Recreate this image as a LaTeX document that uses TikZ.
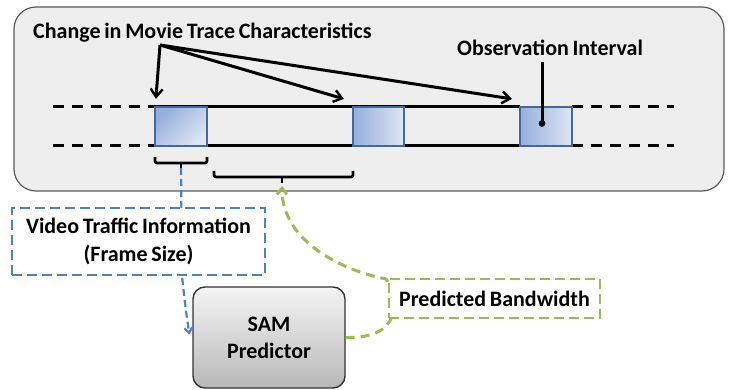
\documentclass[tikz,border=0pt]{standalone}
\usepackage{fontspec}
\setmainfont{Carlito}[WordSpace=0.75]
\usetikzlibrary{arrows.meta,positioning,calc}
\definecolor{PanelGray}{HTML}{EEEEEE}
\definecolor{PanelEdge}{HTML}{5A5A5A}
\definecolor{FrameEdge}{HTML}{45679A}
\definecolor{FrameDark}{HTML}{95AEDC}
\definecolor{FrameLight}{HTML}{DDE6F4}
\definecolor{InfoBlue}{HTML}{4F81BD}
\definecolor{PredGreen}{HTML}{9BBB59}
\tikzset{
  panel/.style={rounded corners=22pt, draw=PanelEdge, fill=PanelGray, line width=1.2pt, minimum width=710pt, minimum height=184pt},
  framebox/.style={draw=FrameEdge, line width=2.2pt, minimum width=52pt, minimum height=39pt, inner sep=0pt},
  label/.style={font=\fontsize{22}{24}\selectfont\bfseries, inner sep=0pt},
  trace/.style={line width=3pt, draw=black},
  tracedash/.style={trace, dash pattern=on 11pt off 8pt},
  pointer/.style={-{Straight Barb[length=8pt, width=12pt, line width=2.4pt]}, line width=3pt},
  bracket/.style={line width=2.6pt, rounded corners=2pt},
  infobox/.style={draw=InfoBlue, fill=white, line width=2.6pt, dash pattern=on 10pt off 5pt, align=center, minimum width=253pt, minimum height=67pt, font=\fontsize{22}{28}\selectfont\bfseries},
  predbox/.style={draw=PredGreen, fill=white, line width=2.6pt, dash pattern=on 10pt off 5pt, minimum width=211pt, minimum height=39pt, font=\fontsize{22}{24}\selectfont\bfseries},
  predictor/.style={rounded corners=12pt, draw=black!80, line width=1.4pt, top color=black!4, bottom color=black!28, align=center, minimum width=152pt, minimum height=101pt, font=\fontsize{22}{27}\selectfont\bfseries},
  infoflow/.style={-{Straight Barb[length=5pt, width=8pt]}, draw=InfoBlue, line width=2.2pt, dash pattern=on 7pt off 4pt},
  predflow/.style={-{Straight Barb[length=6pt, width=10pt]}, draw=PredGreen, line width=3pt, dash pattern=on 9pt off 6pt}
}
\begin{document}
\begin{tikzpicture}[x=1pt, y=-1pt]
  \useasboundingbox (0,0) rectangle (730,390);
  \node[panel] (panel) at (369,99) {};

  % frames of the trace
  \coordinate (f1) at (181,126.5);
  \coordinate (f3) at (546,126.5);
  \draw[trace] ($(f1)+(-26,-19.5)$) -- ($(f3)+(-26,-19.5)$);
  \draw[trace] ($(f1)+(-26,19.5)$) -- ($(f3)+(-26,19.5)$);
  \draw[tracedash] (53,107) -- ($(f1)+(-26,-19.5)$);
  \draw[tracedash] (53,146) -- ($(f1)+(-26,19.5)$);
  \draw[tracedash] ($(f3)+(26,-19.5)$) -- (674,107);
  \draw[tracedash] ($(f3)+(26,19.5)$) -- (674,146);

  \shade[left color=FrameDark, right color=FrameLight, shading angle=45] (155,107) rectangle (207,146);
  \shade[left color=FrameDark, right color=FrameLight] (353,107) rectangle (404,146);
  \shade[left color=FrameDark, right color=FrameLight] (520,107) rectangle (572,146);
  \node[framebox] (frameA) at (181,126.5) {};
  \node[framebox, minimum width=51pt] (frameB) at (378.5,126.5) {};
  \node[framebox] (frameC) at (546,126.5) {};

  % labels and pointers
  \node[label, anchor=west] (change) at (33,33) {Change in Movie Trace Characteristics};
  \node[label, anchor=west] (obs) at (457,48) {Observation Interval};
  \coordinate (src) at (160,45);
  \draw[pointer] (src) -- ($(frameA.north west)+(2,-7)$);
  \draw[pointer] (src) -- ($(frameB.north west)+(-8,-7)$);
  \draw[pointer] (src) -- ($(frameC.north west)+(-7,-7)$);
  \fill ($(frameC.center)+(-4,-3)$) coordinate (dot) circle (3.4pt);
  \draw[line width=3pt] (dot |- obs.south) ++(0,6) -- (dot);

  % brackets
  \draw[bracket] (155,157) -- (155,163) -- (207,163) -- (207,157);
  \draw[bracket] (181,163) -- (181,168) coordinate (b1);
  \draw[bracket] (214,171) -- (214,177) -- (353,177) -- (353,171);
  \draw[bracket] (282,177) -- (282,183) coordinate (b2);

  % predictor part
  \node[predictor] (sam) at (269,337.5) {SAM\\Predictor};
  \draw[infoflow] (b1) -- (182,276) .. controls (185,305) and (187,318) .. ($(sam.west)+(-3,-3)$);
  \draw[predflow] (sam.east) .. controls (372,338) and (388,330) .. (392,316)
    .. controls (395,300) and (392,288) .. (386,279)
    .. controls (340,270) and (282,240) .. ($(b2)+(0,3)$);
  \node[infobox] (info) at (138.5,241.5) {Video Traffic Information\\(Frame Size)};
  \node[predbox] (bw) at (494.5,298.5) {Predicted Bandwidth};
\end{tikzpicture}
\end{document}
